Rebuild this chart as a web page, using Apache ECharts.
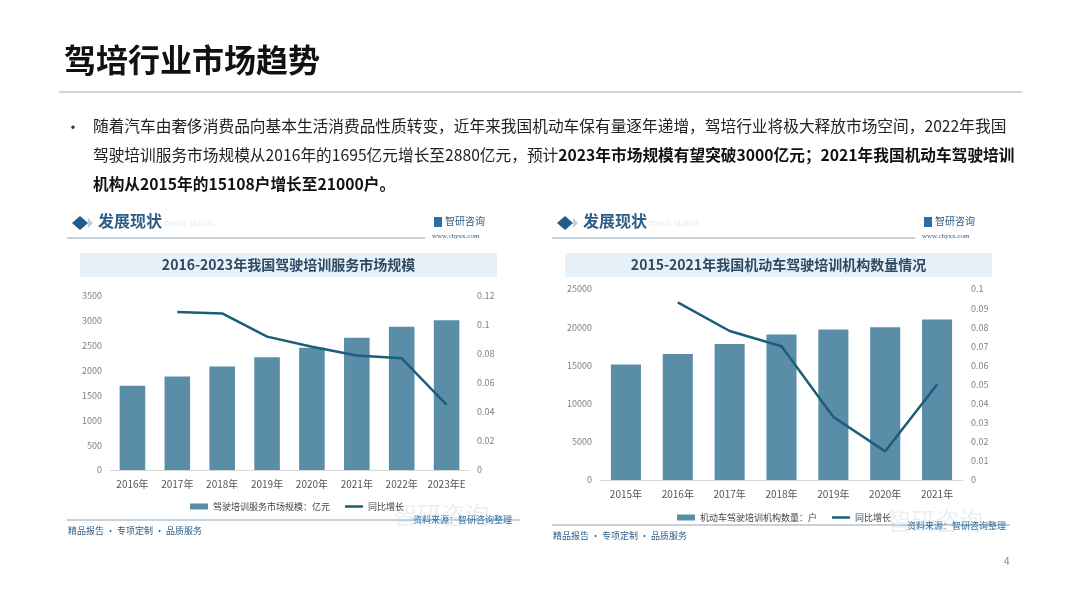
<!DOCTYPE html>
<html>
<head>
<meta charset="utf-8">
<script src="https://cdn.jsdelivr.net/npm/echarts@6/dist/echarts.min.js"></script>
<style>
  html, body { margin: 0; padding: 0; background: #fff; }
  #page { width: 1080px; height: 608px; }
</style>
</head>
<body>
<div id="page"></div>
<script>
// 左图：驾驶培训服务市场规模
var years1 = ['2016年', '2017年', '2018年', '2019年', '2020年', '2021年', '2022年', '2023年E'];
var scale1 = [1695, 1880, 2083, 2270, 2460, 2660, 2880, 3010];
var growth1 = [null, 0.109, 0.108, 0.092, 0.085, 0.079, 0.077, 0.045];

// 右图：机动车驾驶培训机构数量
var years2 = ['2015年', '2016年', '2017年', '2018年', '2019年', '2020年', '2021年'];
var count2 = [15108, 16500, 17800, 19050, 19690, 19980, 21000];
var growth2 = [null, 0.093, 0.078, 0.070, 0.033, 0.015, 0.050];

var SANS = '"Noto Sans CJK SC", "Noto Sans", sans-serif';
var barColor = '#5a8ea8';
var lineColor = '#1b5e78';
var blue = '#2e5d88';
var lineIcon = 'path://M0,0 L18,0 L18,2.5 L0,2.5 Z';

function panel(ox, w, title, titleBand, lineY, footY, srcX, srcY) {
    return [
        { type: 'polygon', shape: { points: [[ox + 20, 216], [ox + 28, 223], [ox + 20, 230], [ox + 12, 223]] }, style: { fill: '#1f5c8e' } },
        { type: 'polygon', shape: { points: [[ox + 28, 218], [ox + 33, 223], [ox + 28, 228]] }, style: { fill: '#b9cfe2' } },
        { type: 'text', left: ox + 38, top: 213, style: { text: '发展现状', font: 'bold 16px ' + SANS, fill: blue } },
        { type: 'text', left: ox + 104, top: 218, style: { text: 'ment status', font: '11px serif', fill: '#ececec' } },
        { type: 'line', shape: { x1: ox + 7, y1: 238, x2: ox + w - 95, y2: 238 }, style: { stroke: '#8aa6bd', lineWidth: 1 } },
        { type: 'rect', shape: { x: ox + w - 86, y: 217, width: 8, height: 10 }, style: { fill: '#2f6ea3' } },
        { type: 'text', left: ox + w - 75, top: 216, style: { text: '智研咨询', font: '10px ' + SANS, fill: blue } },
        { type: 'text', left: ox + w - 88, top: 233, style: { text: 'www.chyxx.com', font: '7px serif', fill: blue } },
        { type: 'rect', shape: { x: titleBand[0], y: 253, width: titleBand[1], height: 24 }, style: { fill: '#e7f1f9' } },
        { type: 'text', x: titleBand[0] + titleBand[1] / 2, y: 265, style: { text: title, font: 'bold 14px ' + SANS, fill: '#2d4a62', textAlign: 'center', textVerticalAlign: 'middle' } },
        { type: 'line', shape: { x1: ox + 7, y1: lineY, x2: ox + w, y2: lineY }, style: { stroke: '#8aa6bd', lineWidth: 1 } },
        { type: 'text', left: ox + 8, top: footY - 6, style: { text: '精品报告 · 专项定制 · 品质服务', font: '9px ' + SANS, fill: blue } },
        { type: 'text', left: srcX - 20, top: srcY - 18, z: -1, style: { text: '智研咨询', font: '24px ' + SANS, fill: 'rgba(200,205,210,0.35)' } },
        { type: 'text', left: srcX, top: srcY - 6, style: { text: '资料来源：智研咨询整理', font: '9px ' + SANS, fill: '#2e6f9e' } }
    ];
}

var para = [
    { type: 'text', left: 65, top: 119, style: { text: '•', font: '16px ' + SANS, fill: '#333' } },
    { type: 'text', left: 93, top: 118, style: { text: '随着汽车由奢侈消费品向基本生活消费品性质转变，近年来我国机动车保有量逐年递增，驾培行业将极大释放市场空间，2022年我国', font: '15.7px ' + SANS, fill: '#222' } },
    { type: 'text', left: 93, top: 147, style: {
        text: '{n|驾驶培训服务市场规模从2016年的1695亿元增长至2880亿元，预计}{b|2023年市场规模有望突破3000亿元；2021年我国机动车驾驶培训}',
        rich: { n: { font: '15.7px ' + SANS, fill: '#222' }, b: { font: 'bold 15.7px ' + SANS, fill: '#111' } } } },
    { type: 'text', left: 93, top: 176, style: { text: '机构从2015年的15108户增长至21000户。', font: 'bold 15.7px ' + SANS, fill: '#111' } }
];

var chart = echarts.init(document.getElementById('page'));
var axisLabel = { color: '#808080', fontSize: 9, fontFamily: SANS, formatter: function (v) { return String(+v.toFixed(2)); } };
var xLabel = { color: '#555', fontSize: 10, fontFamily: SANS, margin: 9, interval: 0 };

var option = {
    backgroundColor: '#fff',
    animation: false,
    graphic: [].concat(
        [
            { type: 'text', left: 64, top: 44, style: { text: '驾培行业市场趋势', font: 'bold 32px ' + SANS, fill: '#111' } },
            { type: 'line', shape: { x1: 59, y1: 92, x2: 1022, y2: 92 }, style: { stroke: '#d4d4d4', lineWidth: 2 } },
            { type: 'text', left: 1004, top: 556, style: { text: '4', font: '10px ' + SANS, fill: '#888' } }
        ],
        para,
        panel(60, 460, '2016-2023年我国驾驶培训服务市场规模', [80, 417], 520, 532, 413, 521),
        panel(545, 465, '2015-2021年我国机动车驾驶培训机构数量情况', [565, 427], 525, 537, 907, 527)
    ),
    legend: [
        { left: 185, top: 497, itemWidth: 18, itemHeight: 6, itemGap: 15, textStyle: { fontSize: 9, color: '#444', fontFamily: SANS },
          data: [{ name: '驾驶培训服务市场规模：亿元', icon: 'rect' }, { name: '同比增长', icon: lineIcon }] },
        { left: 672, top: 508, itemWidth: 18, itemHeight: 6, itemGap: 15, textStyle: { fontSize: 9, color: '#444', fontFamily: SANS },
          data: [{ name: '机动车驾驶培训机构数量：户', icon: 'rect' }, { name: '同比增长 ', icon: lineIcon }] }
    ],
    grid: [
        { left: 110, right: 611, top: 296, bottom: 138 },
        { left: 600, right: 117, top: 289, bottom: 128 }
    ],
    xAxis: [
        { type: 'category', gridIndex: 0, data: years1, axisTick: { show: false },
          axisLine: { lineStyle: { color: '#d9d9d9' } }, axisLabel: xLabel },
        { type: 'category', gridIndex: 1, data: years2, axisTick: { show: false },
          axisLine: { lineStyle: { color: '#d9d9d9' } }, axisLabel: xLabel }
    ],
    yAxis: [
        { type: 'value', gridIndex: 0, min: 0, max: 3500, interval: 500, splitLine: { show: false }, axisLabel: axisLabel },
        { type: 'value', gridIndex: 0, min: 0, max: 0.12, interval: 0.02, splitLine: { show: false }, axisLabel: axisLabel },
        { type: 'value', gridIndex: 1, min: 0, max: 25000, interval: 5000, splitLine: { show: false }, axisLabel: axisLabel },
        { type: 'value', gridIndex: 1, min: 0, max: 0.1, interval: 0.01, splitLine: { show: false }, axisLabel: axisLabel }
    ],
    series: [
        { name: '驾驶培训服务市场规模：亿元', type: 'bar', xAxisIndex: 0, yAxisIndex: 0, data: scale1,
          barWidth: '57%', itemStyle: { color: barColor } },
        { name: '同比增长', type: 'line', xAxisIndex: 0, yAxisIndex: 1, data: growth1,
          symbol: 'none', lineStyle: { color: lineColor, width: 2.5 }, itemStyle: { color: lineColor } },
        { name: '机动车驾驶培训机构数量：户', type: 'bar', xAxisIndex: 1, yAxisIndex: 2, data: count2,
          barWidth: '58%', itemStyle: { color: barColor } },
        { name: '同比增长 ', type: 'line', xAxisIndex: 1, yAxisIndex: 3, data: growth2,
          symbol: 'none', lineStyle: { color: lineColor, width: 2.5 }, itemStyle: { color: lineColor } }
    ]
};
chart.setOption(option);
</script>
</body>
</html>
